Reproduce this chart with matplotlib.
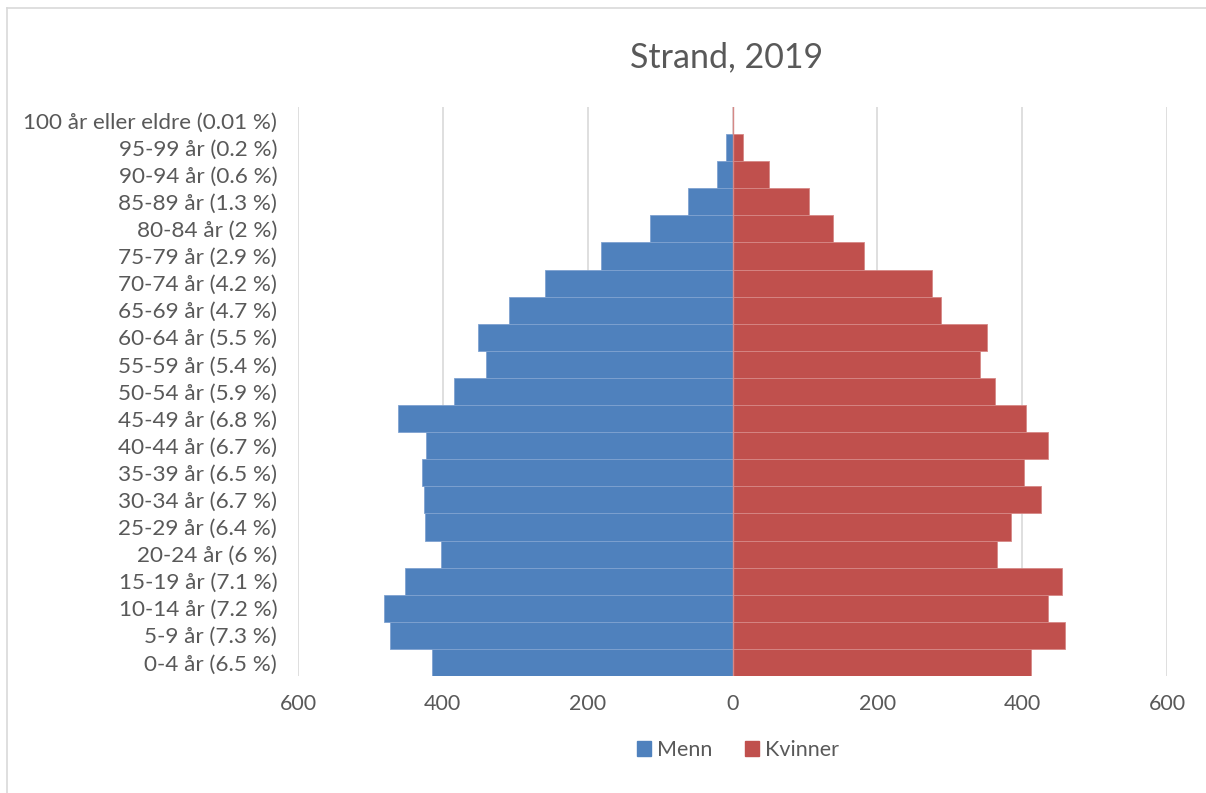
import matplotlib
matplotlib.use("Agg")
import matplotlib.pyplot as plt
from matplotlib.patches import Patch
from matplotlib.lines import Line2D

plt.rcParams['font.family'] = ['Lato', 'DejaVu Sans']

# Data (bottom to top)
age_labels = [
    "0-4 år (6.5 %)", "5-9 år (7.3 %)", "10-14 år (7.2 %)", "15-19 år (7.1 %)",
    "20-24 år (6 %)", "25-29 år (6.4 %)", "30-34 år (6.7 %)", "35-39 år (6.5 %)",
    "40-44 år (6.7 %)", "45-49 år (6.8 %)", "50-54 år (5.9 %)", "55-59 år (5.4 %)",
    "60-64 år (5.5 %)", "65-69 år (4.7 %)", "70-74 år (4.2 %)", "75-79 år (2.9 %)",
    "80-84 år (2 %)", "85-89 år (1.3 %)", "90-94 år (0.6 %)", "95-99 år (0.2 %)",
    "100 år eller eldre (0.01 %)",
]
menn = [415, 473, 481, 452, 403, 425, 426, 429, 423, 462, 384, 341,
        352, 309, 259, 181, 114, 61, 21, 9, 0]
kvinner = [412, 459, 436, 455, 365, 384, 426, 403, 435, 405, 363, 342,
           351, 288, 275, 181, 139, 106, 50, 14, 1]
x_ticks = [-600, -400, -200, 0, 200, 400, 600]
x_tick_labels = ["600", "400", "200", "0", "200", "400", "600"]

blue = "#4F81BD"
red = "#C0504D"
text_col = "#595959"
grid_col = "#D9D9D9"

W, H = 1206, 793
fig = plt.figure(figsize=(W / 100, H / 100), dpi=100)
ax = fig.add_axes([298 / W, 1 - 676 / H, (1167 - 298) / W, (676 - 107) / H])

y = list(range(len(age_labels)))
ax.barh(y, [-v for v in menn], height=1.0, color=blue, edgecolor="#7FA2D0",
        linewidth=0.6, label="Menn", zorder=2)
ax.barh(y, kvinner, height=1.0, color=red, edgecolor="#D68886",
        linewidth=0.6, label="Kvinner", zorder=2)

ax.set_xlim(-600, 600)
ax.set_ylim(-0.5, len(age_labels) - 0.5)
ax.set_xticks(x_ticks)
ax.set_xticklabels(x_tick_labels)
ax.set_yticks(y)
ax.set_yticklabels(age_labels)
ax.tick_params(axis="x", length=0, labelsize=15.5, colors=text_col, pad=13)
ax.tick_params(axis="y", length=0, labelsize=16.2, colors=text_col, pad=15)
for s in ax.spines.values():
    s.set_visible(False)
ax.grid(axis="x", color=grid_col, linewidth=1.2, zorder=0)
ax.set_axisbelow(True)
ax.axvline(0, color="#D68886", linewidth=1.0, zorder=3)

fig.text(727 / W, 1 - 57 / H, "Strand, 2019", ha="center", va="center",
         fontsize=24.5, color=text_col)

handles = [Patch(facecolor=blue, edgecolor=blue), Patch(facecolor=red, edgecolor=red)]
leg = fig.legend(handles, ["Menn", "Kvinner"], loc="center",
                 bbox_to_anchor=(738 / W, 1 - 750 / H), ncol=2, frameon=False,
                 fontsize=15.5, handlelength=0.65, handleheight=0.65,
                 handletextpad=0.3, columnspacing=1.5, labelcolor=text_col)

# chart area border (top & left visible)
fig.add_artist(Line2D([7 / W, 1.01], [1 - 7.5 / H, 1 - 7.5 / H], color=grid_col,
                      linewidth=1.2, transform=fig.transFigure))
fig.add_artist(Line2D([7 / W, 7 / W], [-0.01, 1 - 7.5 / H], color=grid_col,
                      linewidth=1.2, transform=fig.transFigure))

fig.savefig("out.png", dpi=100, facecolor="white")
